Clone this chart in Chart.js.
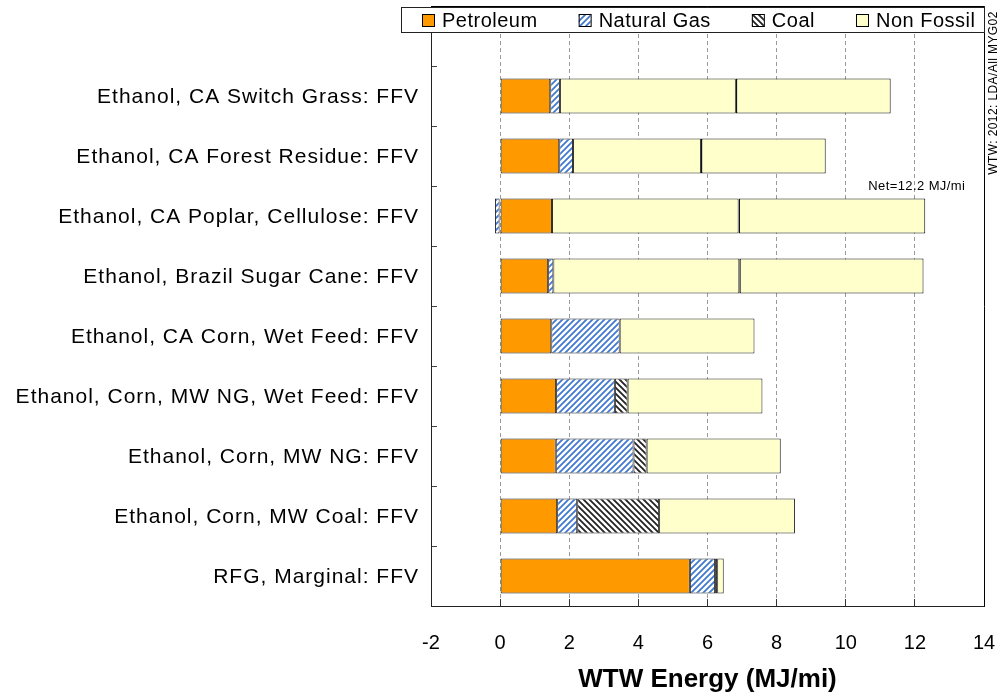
<!DOCTYPE html>
<html>
<head>
<meta charset="utf-8">
<script src="https://cdn.jsdelivr.net/npm/chart.js@4.4.1/dist/chart.umd.min.js"></script>
<style>
  body { margin: 0; background: #fff; }
  canvas { display: block; }
</style>
</head>
<body>
<canvas id="wtwChart" width="1005" height="698"></canvas>
<script>
// first category is left blank, the legend sits over it
const categories = [
    '',
    'Ethanol, CA Switch Grass: FFV',
    'Ethanol, CA Forest Residue: FFV',
    'Ethanol, CA Poplar, Cellulose: FFV',
    'Ethanol, Brazil Sugar Cane: FFV',
    'Ethanol, CA Corn, Wet Feed: FFV',
    'Ethanol, Corn, MW NG, Wet Feed: FFV',
    'Ethanol, Corn, MW NG: FFV',
    'Ethanol, Corn, MW Coal: FFV',
    'RFG, Marginal: FFV'
];
const seriesNames = ['Petroleum', 'Natural Gas', 'Coal', 'Non Fossil'];
const petroleum  = [null, 1.45, 1.71, 1.50, 1.39, 1.48, 1.62, 1.61, 1.65, 5.49];
const naturalGas = [null, 0.28, 0.40, -0.15, 0.15, 1.98, 1.70, 2.25, 0.58, 0.73];
const coal       = [null, null, null, null, null, null, 0.37, 0.38, 2.37, 0.06];
// non fossil is split in two where the marker line is drawn
const nonFossil     = [null, 5.09, 3.70, 5.40, 5.38, 3.90, 3.90, 3.88, 3.93, 0.19];
const nonFossilRest = [null, 4.48, 3.61, 5.40, 5.33, null, null, null, null, null];
const xMin = -2, xMax = 14, xStep = 2;
const netNote = 'Net=12.2 MJ/mi';
const netValue = 12.2;
const sideNote = 'WTW: 2012: LDA/All MYG02';

const FONT = 'Arial, "Liberation Sans", sans-serif';
Chart.defaults.font.family = FONT;

function stripes(color, up) {
    const s = 6;
    const c = document.createElement('canvas');
    c.width = s; c.height = s;
    const g = c.getContext('2d');
    g.fillStyle = '#fff';
    g.fillRect(0, 0, s, s);
    g.strokeStyle = color;
    g.lineWidth = 1.8;
    g.beginPath();
    if (up) {
        g.moveTo(0, s); g.lineTo(s, 0);
        g.moveTo(-s, s); g.lineTo(s, -s);
        g.moveTo(0, 2 * s); g.lineTo(2 * s, 0);
    } else {
        g.moveTo(0, 0); g.lineTo(s, s);
        g.moveTo(-s, 0); g.lineTo(s, 2 * s);
        g.moveTo(0, -s); g.lineTo(2 * s, s);
    }
    g.stroke();
    return g.createPattern(c, 'repeat');
}

const orange = '#FF9900';
const gasFill = stripes('#4279d0', true);
const coalFill = stripes('#222', false);
const paleYellow = '#FFFFCC';
const edge = '#222';

function bar(label, data, fill, extra) {
    return Object.assign({
        label: label,
        data: data,
        backgroundColor: fill,
        borderColor: edge,
        borderWidth: 1,
        borderSkipped: false,
        barPercentage: 0.58,
        categoryPercentage: 1.0
    }, extra || {});
}

const yLabels = {
    id: 'yLabels',
    afterDraw(chart) {
        const ctx = chart.ctx, y = chart.scales.y;
        ctx.save();
        ctx.font = '21px ' + FONT;
        ctx.letterSpacing = '1px';
        ctx.fillStyle = '#000';
        ctx.textAlign = 'right';
        ctx.textBaseline = 'middle';
        categories.forEach((c, i) => {
            if (c) ctx.fillText(c, y.right - 12, y.getPixelForValue(i) + 1);
        });
        ctx.restore();
    }
};

// top and right edges of the plot box
const frame = {
    id: 'frame',
    afterDraw(chart) {
        const ctx = chart.ctx, a = chart.chartArea;
        const r = Math.round(a.right) + 0.5;
        ctx.save();
        ctx.strokeStyle = '#000';
        ctx.lineWidth = 1;
        ctx.setLineDash([]);
        ctx.beginPath();
        ctx.moveTo(a.left, Math.round(a.top) + 0.5);
        ctx.lineTo(r, Math.round(a.top) + 0.5);
        ctx.lineTo(r, a.bottom + 0.5);
        ctx.stroke();
        ctx.restore();
    }
};

const legendBox = {
    id: 'legendBox',
    afterDraw(chart) {
        const ctx = chart.ctx, a = chart.chartArea;
        const fills = [orange, gasFill, coalFill, paleYellow];
        ctx.save();
        ctx.fillStyle = '#fff';
        ctx.fillRect(401, 7, a.right - 401, 26);
        ctx.strokeStyle = edge;
        ctx.lineWidth = 1;
        ctx.strokeRect(401.5, 7.5, a.right - 401, 25);
        ctx.font = '20px ' + FONT;
        ctx.letterSpacing = '0.5px';
        ctx.textBaseline = 'middle';
        let x = 422;
        seriesNames.forEach((name, i) => {
            ctx.fillStyle = fills[i];
            ctx.fillRect(x, 14, 12, 12);
            ctx.strokeStyle = '#000';
            ctx.strokeRect(x + 0.5, 14.5, 12, 12);
            ctx.fillStyle = '#000';
            ctx.fillText(name, x + 20, 21);
            x += 20 + ctx.measureText(name).width + 41;
        });
        ctx.restore();
    }
};

const notes = {
    id: 'notes',
    afterDraw(chart) {
        const ctx = chart.ctx, xs = chart.scales.x, ys = chart.scales.y;
        ctx.save();
        ctx.fillStyle = '#000';
        ctx.font = '13px ' + FONT;
        ctx.letterSpacing = '0.4px';
        ctx.textAlign = 'center';
        ctx.textBaseline = 'middle';
        const ny = (ys.getPixelForValue(2) + ys.getPixelForValue(3)) / 2;
        ctx.fillText(netNote, xs.getPixelForValue(netValue) - 5, ny);
        ctx.font = '12px ' + FONT;
        ctx.translate(994, 93);
        ctx.rotate(-Math.PI / 2);
        ctx.fillText(sideNote, 0, 0);
        ctx.restore();
    }
};

new Chart(document.getElementById('wtwChart'), {
    type: 'bar',
    data: {
        labels: categories,
        datasets: [
            bar(seriesNames[0], petroleum, orange),
            bar(seriesNames[1], naturalGas, gasFill),
            bar(seriesNames[2], coal, coalFill),
            bar(seriesNames[3], nonFossil, paleYellow),
            bar(seriesNames[3], nonFossilRest, paleYellow,
                { borderWidth: { left: 1.5, top: 1, right: 1, bottom: 1 }, borderColor: '#111' })
        ]
    },
    options: {
        indexAxis: 'y',
        responsive: false,
        animation: false,
        layout: { padding: { left: 0, right: 21, top: 6, bottom: 0 } },
        plugins: {
            legend: { display: false },
            tooltip: { enabled: false }
        },
        scales: {
            x: {
                stacked: true,
                min: xMin,
                max: xMax,
                ticks: { stepSize: xStep, color: '#000', font: { size: 20 }, padding: 32 },
                grid: {
                    color: '#9a9a9a',
                    tickLength: -7,
                    tickColor: '#333',
                    tickBorderDash: []
                },
                border: { color: edge, width: 1, dash: [4, 3] },
                title: {
                    display: true,
                    text: 'WTW Energy (MJ/mi)',
                    color: '#000',
                    font: { size: 26, weight: 'bold' },
                    padding: { top: 0, bottom: 3 }
                },
                afterFit(s) {
                    s.height = 92;
                    s.paddingLeft = 0;
                    s.paddingRight = 0;
                }
            },
            y: {
                stacked: true,
                ticks: { display: false },
                grid: {
                    drawOnChartArea: false,
                    tickLength: -6,
                    tickColor: '#444',
                    offset: true
                },
                border: { color: edge, width: 1 },
                afterFit(s) { s.width = 431; }
            }
        }
    },
    plugins: [frame, yLabels, legendBox, notes]
});
</script>
</body>
</html>
